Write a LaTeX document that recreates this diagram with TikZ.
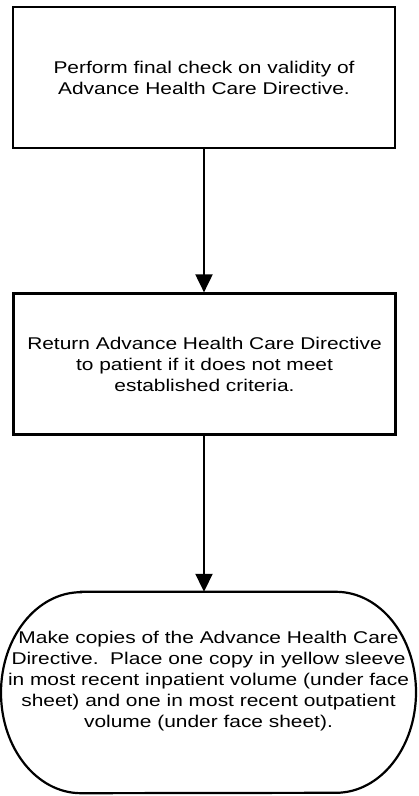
\documentclass[tikz,border=0pt]{standalone}
\usepackage{fontspec}
\setmainfont{Liberation Sans}[FakeStretch=1.23]
\usetikzlibrary{arrows.meta}

\begin{document}
\begin{tikzpicture}[x=1pt,y=1pt,
  font=\fontsize{17}{21}\selectfont,
  box/.style={draw,line width=2.2pt,minimum width=382pt,minimum height=141pt,align=center,inner sep=0pt},
  flow/.style={line width=2pt,-{Triangle[length=18pt,width=17pt]}}]

\useasboundingbox (0,0) rectangle (419,796);

\node[box] (check) at (204,718.5) {Perform final check on validity of\\Advance Health Care Directive.};
\node[box] (return) at (204.5,432) {Return Advance Health Care Directive\\to patient if it does not meet\\established criteria.};

% end of the flow: rounded at both sides
\node[minimum width=415pt,minimum height=201pt,inner sep=0pt] (copies) at (208.5,103.5) {};
\draw[line width=2.2pt] ([xshift=-127.5pt]copies.north) -- ([xshift=127.5pt]copies.north)
  arc[start angle=90,end angle=-90,x radius=80,y radius=100.5]
  -- ([xshift=-127.5pt]copies.south)
  arc[start angle=270,end angle=90,x radius=80,y radius=100.5] -- cycle;
\node[align=center,inner sep=0pt] (copiestext) at ([yshift=11.5pt]copies.center) {Make copies of the Advance Health Care\\Directive.\ \ Place one copy in yellow sleeve\\in most recent inpatient volume (under face\\sheet) and one in most recent outpatient\\volume (under face sheet).};

\draw[flow] (check.south) -- (return.north -| check.south);
\draw[flow] (return.south -| check.south) -- (copies.north -| check.south);

\end{tikzpicture}
\end{document}
